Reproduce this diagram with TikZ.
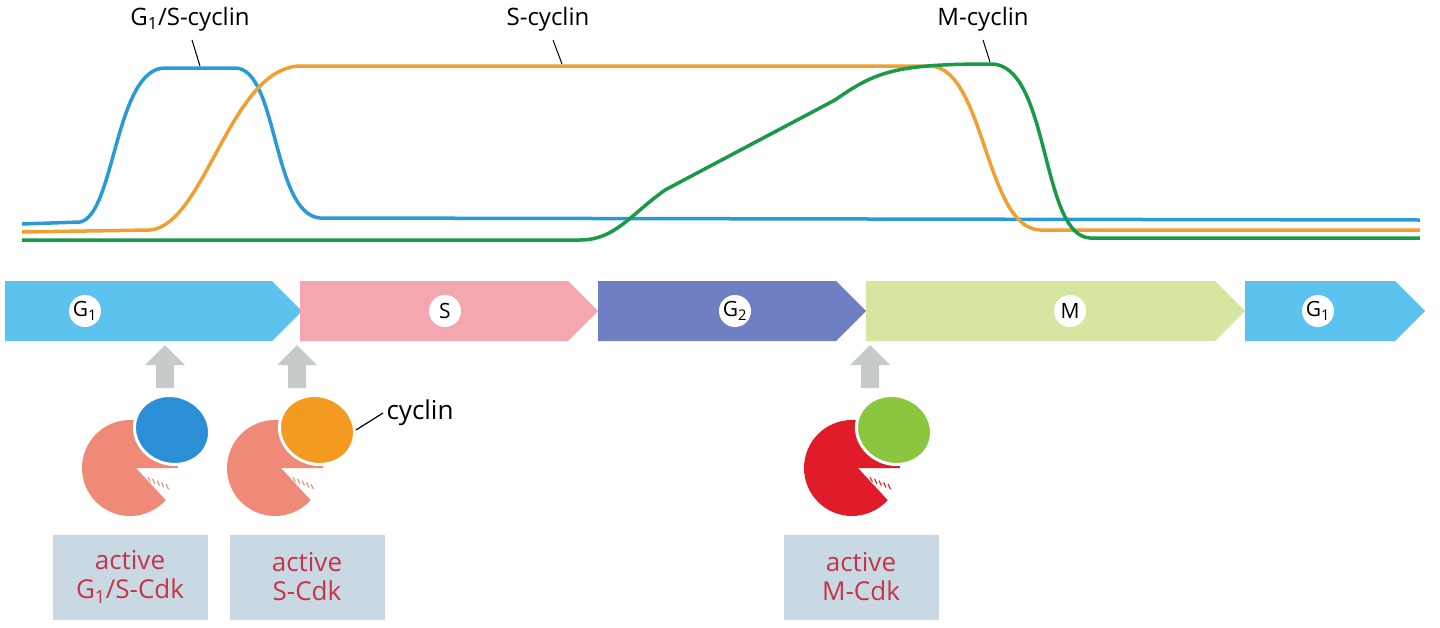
\documentclass[tikz,border=0pt]{standalone}
\usepackage{fontspec}
\setmainfont{Open Sans}
\definecolor{cb}{HTML}{2A9AD6}\definecolor{co}{HTML}{F0A030}\definecolor{cg}{HTML}{1A9A48}
\definecolor{aG}{HTML}{5CC3EE}\definecolor{aS}{HTML}{F4A7AE}\definecolor{aGt}{HTML}{6F7FC4}\definecolor{aM}{HTML}{D4E6A0}
\definecolor{salm}{HTML}{F08A78}\definecolor{mred}{HTML}{E01B2A}\definecolor{cyb}{HTML}{2B8FD6}\definecolor{cyo}{HTML}{F39A1F}\definecolor{cyg}{HTML}{8CC63F}
\definecolor{gr}{HTML}{C5CBCB}\definecolor{boxc}{HTML}{C9D9E3}\definecolor{txr}{HTML}{C8334A}
\tikzset{
 curve/.style={line width=3.5pt,line join=round},
 phase/.style={fill=#1,draw=none},
 lab/.style={circle,fill=white,minimum size=32pt,inner sep=0pt,font=\fontsize{21}{21}\selectfont},
 clab/.style={font=\fontsize{24}{24}\selectfont,anchor=south},
 tick/.style={line width=1pt},
 up/.style={fill=gr,draw=none},
 cbox/.style={fill=boxc,minimum width=155pt,minimum height=85pt,align=center,text=txr,font=\fontsize{26}{29}\selectfont,inner sep=0pt},
}
\newcommand{\phasearrow}[3]{%
 \fill[phase=#3] (#1,-281) -- (#2-30,-281) -- (#2,-311) -- (#2-30,-341) -- (#1,-341) -- cycle;}
\newcommand{\cdk}[4]{% x,y,cdk color, cyclin color
 \begin{scope}[shift={(#1,#2)}]
 \fill[#3] (0:48) arc (0:318:48) -- (6,0) -- cycle;
 \fill[#4,draw=white,line width=3pt,rotate around={-20:(42,38)}] (42,38) ellipse (38 and 34);
 \foreach \a in {0,...,4} {\draw[#3,line width=1.1pt] (18+4.5*\a,-9-1.8*\a) -- ++(2.5,-5);}
 \end{scope}}
\begin{document}
\begin{tikzpicture}[x=1pt,y=1pt]
\useasboundingbox (0,0) rectangle (1440,-627);
\draw[curve,cb] (22,-224) -- (80,-222) .. controls (115,-215) and (115,-68) .. (165,-68) -- (235,-68) .. controls (278,-68) and (272,-214) .. (320,-218) -- (1420,-220);
\draw[curve,co] (22,-232) -- (150,-230) .. controls (205,-225) and (230,-68) .. (300,-66) -- (930,-66) .. controls (985,-68) and (985,-228) .. (1040,-230) -- (1420,-230);
\draw[curve,cg] (22,-240) -- (580,-240) .. controls (615,-240) and (630,-215) .. (665,-190) -- (835,-100) .. controls (875,-72) and (895,-64) .. (990,-64) .. controls (1050,-62) and (1040,-236) .. (1090,-238) -- (1420,-238);
\node[clab] (l1) at (190,-35) {G\textsubscript{1}/S-cyclin};
\draw[tick] (192,-40) -- (200,-66);
\node[clab] (l2) at (548,-35) {S-cyclin};
\draw[tick] (553,-40) -- (562,-64);
\node[clab] (l3) at (983,-35) {M-cyclin};
\draw[tick] (983,-40) -- (990,-62);
\phasearrow{5}{302}{aG}
\phasearrow{300}{598}{aS}
\phasearrow{598}{866}{aGt}
\phasearrow{866}{1245}{aM}
\phasearrow{1245}{1425}{aG}
\node[lab] (p1) at (85,-311) {G\textsubscript{1}};
\node[lab] (p2) at (445,-311) {S};
\node[lab] (p3) at (735,-311) {G\textsubscript{2}};
\node[lab] (p4) at (1070,-311) {M};
\node[lab] (p5) at (1318,-311) {G\textsubscript{1}};
\foreach \x in {165,297,870} {\fill[up] (\x-9,-388) -- (\x-9,-365) -- (\x-20,-365) -- (\x,-345) -- (\x+20,-365) -- (\x+9,-365) -- (\x+9,-388) -- cycle;}
\cdk{130}{-468}{salm}{cyb}
\cdk{275}{-468}{salm}{cyo}
\cdk{852}{-468}{mred}{cyg}
\node[font=\fontsize{26}{26}\selectfont,anchor=west] (cy) at (383,-413) {cyclin};
\draw[line width=1.2pt] (cy.west) -- (356,-430);
\node[cbox] (b1) at (130,-577) {active\\G\textsubscript{1}/S-Cdk};
\node[cbox] (b2) at (307,-577) {active\\S-Cdk};
\node[cbox] (b3) at (861,-577) {active\\M-Cdk};
\end{tikzpicture}
\end{document}
